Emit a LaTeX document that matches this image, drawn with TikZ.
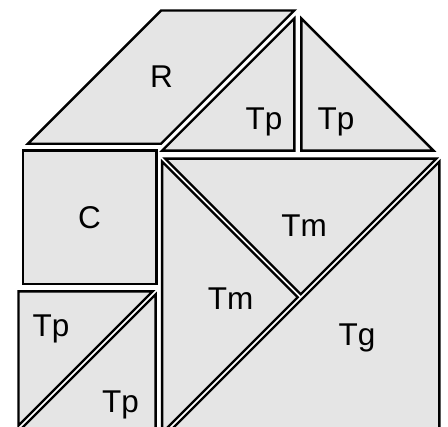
\documentclass[tikz,border=0pt]{standalone}
\usepackage{fontspec}
\setmainfont{Liberation Sans}
\definecolor{piecegray}{RGB}{229,229,229}
\begin{document}
\begin{tikzpicture}[x=1pt,y=-1pt,
  piece/.style={fill=piecegray, draw=black, line width=2.4pt, line join=miter},
  lbl/.style={font=\fontsize{31.5}{36}\selectfont, anchor=base, inner sep=0pt}]
\useasboundingbox (0,0) rectangle (448,427);
\clip (0,0) rectangle (448,427);
% R parallelogram
\draw[piece] (27.8,143.8) -- (161,143.8) -- (294.3,10.5) -- (161.1,10.5) -- cycle;
% upper small triangles
\draw[piece] (162.1,150.7) -- (294.3,150.7) -- (294.3,18.5) -- cycle;
\draw[piece] (301.3,18.5) -- (301.3,150.7) -- (433.5,150.7) -- cycle;
% square C
\draw[piece] (22.85,150.35) rectangle (156.5,283.85);
% lower-left small triangles
\draw[piece] (18.45,291.45) -- (152.51,291.45) -- (18.45,425.51) -- cycle;
\draw[piece] (155.55,294.49) -- (155.55,428.55) -- (21.49,428.55) -- cycle;
% big square: two medium triangles and the large one
\draw[piece] (165.19,158.65) -- (436.31,158.65) -- (300.75,294.21) -- cycle;
\draw[piece] (162.15,161.69) -- (162.15,432.81) -- (297.71,297.25) -- cycle;
\draw[piece] (439.35,161.69) -- (439.35,435.85) -- (165.19,435.85) -- cycle;
% labels
\node[lbl] (lR)  at (161.5,88) {R};
\node[lbl] (lTp1) at (264,130) {Tp};
\node[lbl] (lTp2) at (336,130) {Tp};
\node[lbl] (lC)  at (89.5,228.5) {C};
\node[lbl] (lTp3) at (51,337) {Tp};
\node[lbl] (lTp4) at (120.5,413) {Tp};
\node[lbl] (lTm1) at (230.5,310) {Tm};
\node[lbl] (lTm2) at (304,237) {Tm};
\node[lbl] (lTg) at (357,346) {Tg};
\end{tikzpicture}
\end{document}
